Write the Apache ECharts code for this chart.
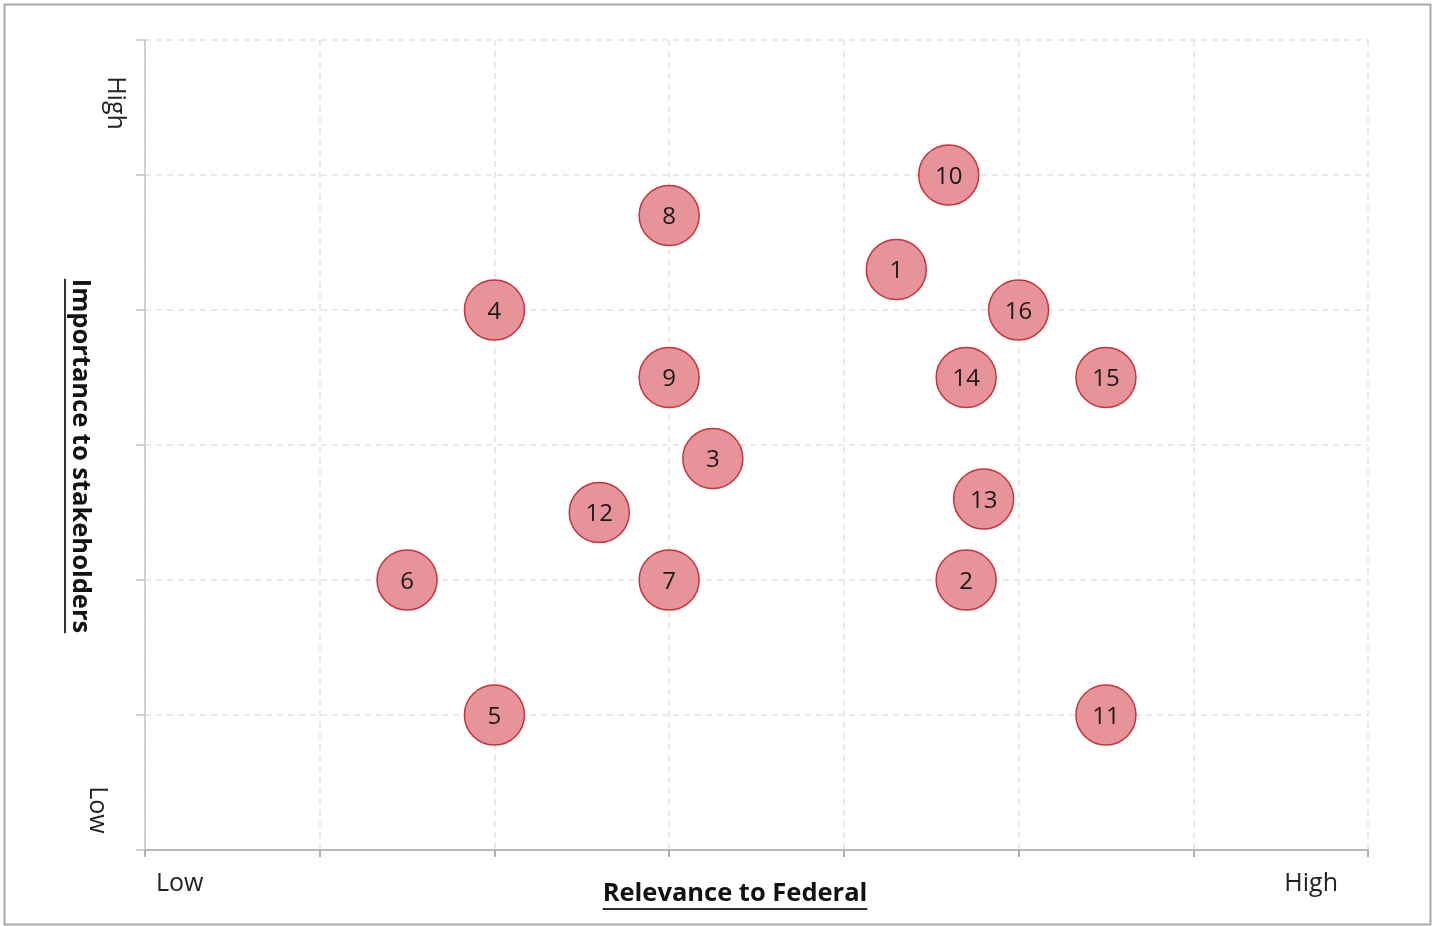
<!DOCTYPE html>
<html>
<head>
<meta charset="utf-8">
<script src="https://cdn.jsdelivr.net/npm/echarts@6/dist/echarts.min.js"></script>
<style>
html,body{margin:0;padding:0;background:#fff;}
#chart{width:1437px;height:926px;}
</style>
</head>
<body>
<div id="chart"></div>
<script>
// ---- data ----
const ids = ['1','2','3','4','5','6','7','8','9','10','11','12','13','14','15','16'];
const relevance = [4.3, 4.7, 3.25, 2, 2, 1.5, 3, 3, 3, 4.6, 5.5, 2.6, 4.8, 4.7, 5.5, 5];
const importance = [4.3, 2, 2.9, 4, 1, 2, 2, 4.7, 3.5, 5, 1, 2.5, 2.6, 3.5, 3.5, 4];
const xEndLabels = ['Low', 'High'];
const yEndLabels = ['Low', 'High'];
const xTitle = 'Relevance to Federal';
const yTitle = 'Importance to stakeholders';

const points = ids.map((id, i) => ({ name: id, value: [relevance[i], importance[i]] }));

const chart = echarts.init(document.getElementById('chart'));
const FONT = '"Open Sans", "Noto Sans", sans-serif';

function textWidth(txt, font) {
  const c = document.createElement('canvas').getContext('2d');
  c.font = font;
  return c.measureText(txt).width;
}

const G = { left: 145, right: 69, top: 40, bottom: 76 };

const titleSize = 25.5;
const xTW = textWidth(xTitle, 'bold ' + titleSize + 'px ' + FONT);
const yTW = textWidth(yTitle, 'bold ' + titleSize + 'px ' + FONT);
const xTitleCx = 735;
const xTitleY = 894;
const yTitleCy = 456;
const yTitleX = 80;

chart.setOption({
  backgroundColor: '#fff',
  animation: false,
  grid: { left: G.left, right: G.right, top: G.top, bottom: G.bottom },
  xAxis: {
    type: 'value', min: 0, max: 7, interval: 1,
    axisLine: { show: true, lineStyle: { color: '#b8b8b8', width: 2 } },
    axisTick: { show: true, inside: false, length: 7, lineStyle: { color: '#b0b0b0', width: 2 } },
    axisLabel: { show: false },
    splitLine: { show: true, lineStyle: { color: '#e2e2e2', type: [6, 5], width: 1.5 } }
  },
  yAxis: {
    type: 'value', min: 0, max: 6, interval: 1,
    axisLine: { show: true, onZero: false, lineStyle: { color: '#c4c4c4', width: 1.5 } },
    axisTick: { show: true, inside: false, length: 9, lineStyle: { color: '#c4c4c4', width: 1.5 } },
    axisLabel: { show: false },
    splitLine: { show: true, lineStyle: { color: '#e2e2e2', type: [6, 5], width: 1.5 } }
  },
  series: [{
    type: 'scatter',
    data: points,
    symbol: 'circle',
    symbolSize: 60,
    itemStyle: { color: '#e6939a', opacity: 1, borderColor: '#c8323a', borderWidth: 1.5 },
    label: {
      show: true, position: 'inside', formatter: '{b}',
      color: '#1a1a1a', fontSize: 24, fontFamily: FONT, offset: [0, 2]
    },
    z: 5
  }],
  graphic: [
    { type: 'rect', shape: { x: 4.5, y: 4.5, width: 1426, height: 920 },
      style: { fill: null, stroke: '#a8a8a8', lineWidth: 2 }, z: 0, silent: true },
    { type: 'text', left: 156, top: 871,
      style: { text: xEndLabels[0], fontSize: 25, fontFamily: FONT, fill: '#222' } },
    { type: 'text', right: 1437 - 1338, top: 871,
      style: { text: xEndLabels[1], fontSize: 25, fontFamily: FONT, fill: '#222' } },
    { type: 'text', x: 115, y: 103, rotation: -Math.PI / 2,
      style: { text: yEndLabels[1], fontSize: 25, fontFamily: FONT, fill: '#222', align: 'center', verticalAlign: 'middle' } },
    { type: 'text', x: 97, y: 810, rotation: -Math.PI / 2,
      style: { text: yEndLabels[0], fontSize: 25, fontFamily: FONT, fill: '#222', align: 'center', verticalAlign: 'middle' } },
    { type: 'text', x: xTitleCx, y: xTitleY,
      style: { text: xTitle, fontSize: titleSize, fontWeight: 'bold', fontFamily: FONT, fill: '#111', align: 'center', verticalAlign: 'middle' } },
    { type: 'line', shape: { x1: xTitleCx - xTW / 2, y1: xTitleY + 15, x2: xTitleCx + xTW / 2, y2: xTitleY + 15 },
      style: { stroke: '#333', lineWidth: 2 } },
    { type: 'text', x: yTitleX, y: yTitleCy, rotation: -Math.PI / 2,
      style: { text: yTitle, fontSize: titleSize, fontWeight: 'bold', fontFamily: FONT, fill: '#111', align: 'center', verticalAlign: 'middle' } },
    { type: 'line', shape: { x1: yTitleX - 15, y1: yTitleCy - yTW / 2, x2: yTitleX - 15, y2: yTitleCy + yTW / 2 },
      style: { stroke: '#333', lineWidth: 2 } }
  ]
});
</script>
</body>
</html>
